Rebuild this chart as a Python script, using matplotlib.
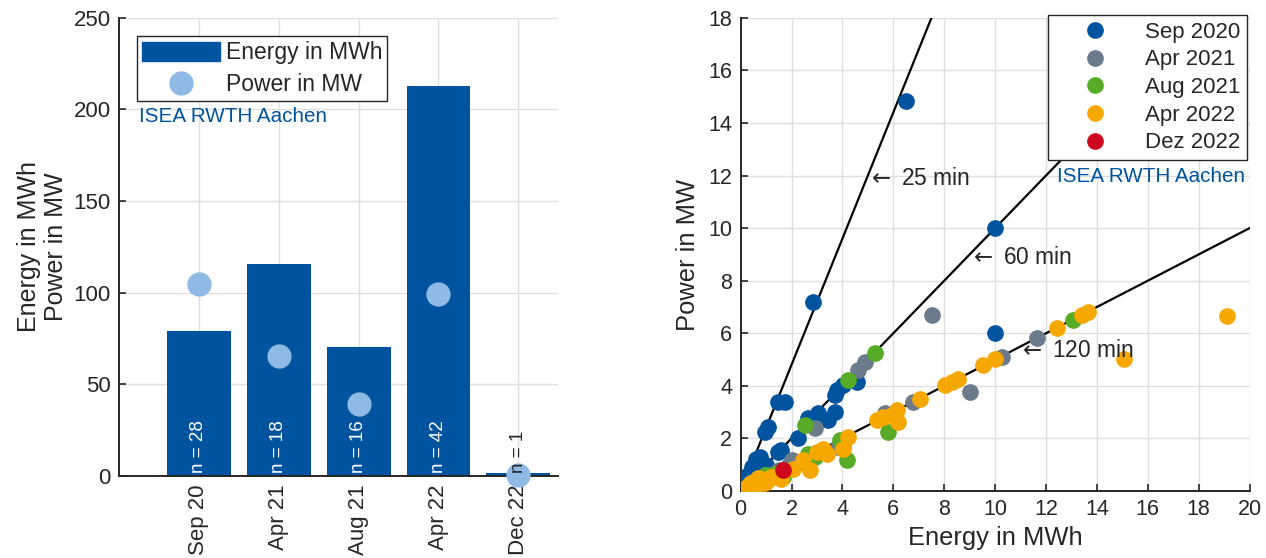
import numpy as np
import matplotlib
matplotlib.use('Agg')
import matplotlib.pyplot as plt
from matplotlib.lines import Line2D
from matplotlib.patches import Patch

plt.rcParams['font.family'] = ['Liberation Sans', 'DejaVu Sans']
plt.rcParams['mathtext.fontset'] = 'dejavusans'
plt.rcParams['text.color'] = '#262626'
plt.rcParams['axes.labelcolor'] = '#262626'
plt.rcParams['xtick.color'] = '#262626'
plt.rcParams['ytick.color'] = '#262626'

# colours
c_blue = '#00549F'
c_light = '#8EBAE5'
c_gray = '#6C7B8B'
c_green = '#57AB27'
c_orange = '#F6A800'
c_red = '#CC071E'

# left chart data
campaigns = ['Sep 20', 'Apr 21', 'Aug 21', 'Apr 22', 'Dec 22']
energy_mwh = [79, 115.5, 70.3, 213, 1.5]
power_mw = [104.5, 65.5, 39.3, 99.3, 0.8]
n_events = [28, 18, 16, 42, 1]

# right chart data (energy in MWh, power in MW)
sep20_e = [6.5, 10.0, 2.85, 10.0, 1.48, 1.74, 0.96, 1.06, 0.76, 1.0, 1.48, 1.6, 2.27,
           2.66, 3.05, 3.45, 3.71, 3.71, 3.77, 4.04, 4.56, 0.3, 0.45, 0.6, 0.2, 0.5, 0.35, 0.8]
sep20_p = [14.85, 10.0, 7.2, 6.0, 3.39, 3.39, 2.25, 2.44, 1.3, 0.98, 1.49, 1.55, 2.0,
           2.76, 2.95, 2.69, 3.0, 3.65, 3.84, 4.03, 4.15, 0.6, 0.9, 1.2, 0.4, 0.75, 0.5, 0.9]
apr21_e = [7.51, 4.89, 4.63, 2.92, 6.79, 9.02, 10.26, 11.64, 3.84, 2.0, 5.67,
           0.4, 0.7, 1.1, 1.5, 0.3, 2.4, 1.9]
apr21_p = [6.7, 4.92, 4.6, 2.38, 3.39, 3.77, 5.11, 5.81, 1.68, 1.17, 2.95,
           0.3, 0.45, 0.6, 0.8, 0.2, 1.1, 1.0]
aug21_e = [5.28, 4.23, 2.55, 5.8, 3.9, 4.04, 4.17, 2.92, 2.66, 13.05, 1.68, 0.96,
           0.5, 0.8, 1.3, 0.35]
aug21_p = [5.26, 4.22, 2.5, 2.25, 1.93, 1.68, 1.17, 1.3, 1.42, 6.5, 0.53, 0.6,
           0.3, 0.45, 0.65, 0.25]
apr22_e = [0.35, 0.5, 0.65, 0.8, 1.1, 1.2, 1.48, 1.6, 2.07, 2.46, 2.72, 2.99, 3.25,
           3.38, 4.04, 4.23, 5.35, 5.61, 5.94, 6.13, 6.2, 7.05, 8.04, 8.3, 8.56, 9.54,
           10.0, 12.42, 13.4, 13.67, 15.05, 19.1, 0.25, 0.4, 0.55, 0.9, 1.3, 0.3, 0.7,
           1.0, 0.45, 0.6]
apr22_p = [0.25, 0.35, 0.4, 0.45, 0.45, 0.52, 0.58, 0.45, 0.85, 1.17, 0.79, 1.49, 1.61,
           1.42, 1.61, 2.06, 2.69, 2.82, 2.88, 3.07, 2.62, 3.52, 4.03, 4.15, 4.28, 4.79,
           5.04, 6.19, 6.7, 6.81, 5.02, 6.66, 0.15, 0.3, 0.2, 0.3, 0.55, 0.1, 0.5,
           0.35, 0.1, 0.25]
dec22_e = [1.68]
dec22_p = [0.79]

fig = plt.figure(figsize=(12.66, 5.58), dpi=100)

# ---------- left: bars ----------
ax1 = fig.add_axes([0.094, 0.147, 0.347, 0.821])
x = np.arange(1, len(campaigns) + 1)
ax1.bar(x, energy_mwh, width=0.8, color=c_blue, zorder=2)
ax1.plot(x, power_mw, 'o', color=c_light, markersize=16.5, zorder=3, clip_on=False)
for xi, n in zip(x, n_events):
    col = 'white' if n > 1 else '#262626'
    ax1.text(xi, 1.5, 'n = %d' % n, rotation=90, ha='center', va='bottom',
             fontsize=13.5, color=col, zorder=4)
ax1.text(0.25, 196, 'ISEA RWTH Aachen', color=c_blue, fontsize=14.9, va='center')
ax1.set_xlim(0, 5.5)
ax1.set_ylim(0, 250)
ax1.set_xticks(x)
ax1.set_xticklabels(campaigns, rotation=90, fontsize=16)
ax1.set_yticks([0, 50, 100, 150, 200, 250])
ax1.tick_params(axis='y', labelsize=16)
ax1.set_ylabel('Energy in MWh\nPower in MW', fontsize=18, labelpad=4, linespacing=1.15)
handles = [Patch(color=c_blue, label='Energy in MWh'),
           Line2D([], [], marker='o', linestyle='none', color=c_light, markersize=16.5,
                  label='Power in MW')]
leg1 = ax1.legend(handles=handles, loc='upper left', bbox_to_anchor=(0.041, 0.96),
                  fontsize=16.5, frameon=True, fancybox=False, edgecolor='#262626',
                  framealpha=1, handlelength=3.4, handleheight=0.9, borderpad=0.22,
                  labelspacing=0.4, handletextpad=0.25, borderaxespad=0)
leg1.get_frame().set_linewidth(1.0)

# ---------- right: scatter ----------
ax2 = fig.add_axes([0.585, 0.12, 0.402, 0.848])
e_line = np.array([0, 20])
for minutes in [25, 60, 120]:
    ax2.plot(e_line, e_line * 60 / minutes, color='black', linewidth=1.6, zorder=2)
ms = 11
ax2.plot(sep20_e, sep20_p, 'o', color=c_blue, markersize=ms, label='Sep 2020', zorder=3)
ax2.plot(apr21_e, apr21_p, 'o', color=c_gray, markersize=ms, label='Apr 2021', zorder=3)
ax2.plot(aug21_e, aug21_p, 'o', color=c_green, markersize=ms, label='Aug 2021', zorder=3)
ax2.plot(apr22_e, apr22_p, 'o', color=c_orange, markersize=ms, label='Apr 2022', zorder=3)
ax2.plot(dec22_e, dec22_p, 'o', color=c_red, markersize=ms, label='Dez 2022', zorder=3)
ax2.text(4.95, 11.9, r'$\leftarrow$ 25 min', fontsize=16.4, va='center')
ax2.text(8.97, 8.9, r'$\leftarrow$ 60 min', fontsize=16.4, va='center')
ax2.text(10.92, 5.35, r'$\leftarrow$ 120 min', fontsize=16.4, va='center')
ax2.text(12.45, 11.95, 'ISEA RWTH Aachen', color=c_blue, fontsize=14.9, va='center')
ax2.set_xlim(0, 20)
ax2.set_ylim(0, 18)
ax2.set_xticks(np.arange(0, 21, 2))
ax2.set_yticks(np.arange(0, 19, 2))
ax2.tick_params(labelsize=15.5)
ax2.set_xlabel('Energy in MWh', fontsize=18.4, labelpad=4)
ax2.set_ylabel('Power in MW', fontsize=18.4, labelpad=6)
leg2 = ax2.legend(loc='upper right', bbox_to_anchor=(0.995, 1.006), fontsize=16,
                  frameon=True, fancybox=False, edgecolor='#262626', framealpha=1,
                  handlelength=3.6, handletextpad=0.47, borderpad=0.3, labelspacing=0.3,
                  borderaxespad=0, markerscale=1.0)
leg2.get_frame().set_linewidth(1.0)

for ax in (ax1, ax2):
    ax.grid(True, color='#DFDFDF', linewidth=1.0, zorder=0)
    ax.set_axisbelow(True)
    ax.spines['top'].set_visible(False)
    ax.spines['right'].set_visible(False)
    ax.spines['left'].set_color('#262626')
    ax.spines['bottom'].set_color('#262626')
    ax.spines['left'].set_linewidth(1.4)
    ax.spines['bottom'].set_linewidth(1.4)
    ax.tick_params(direction='in', length=5, width=1.2, pad=6)

fig.savefig('out.png', dpi=100)
